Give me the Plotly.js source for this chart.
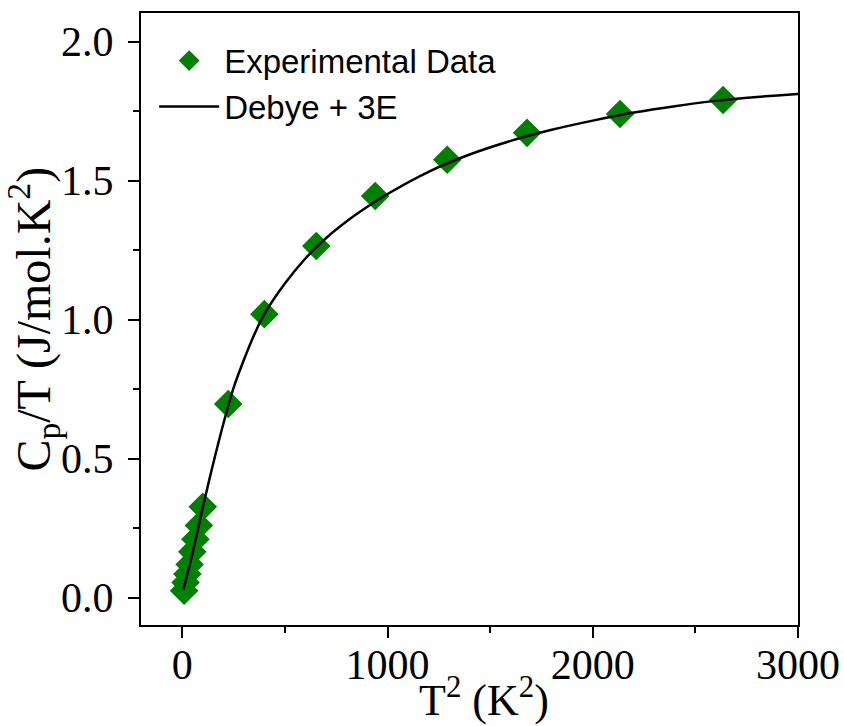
<!DOCTYPE html>
<html>
<head>
<meta charset="utf-8">
<script src="https://cdn.plot.ly/plotly-3.0.1.min.js"></script>
<style>html,body{margin:0;padding:0;background:#fff;}#chart{width:844px;height:726px;}</style>
</head>
<body>
<div id="chart"></div>
<script>
// Experimental data: T^2 (K^2) and Cp/T (J/mol.K^2)
const expT2 = [9, 16, 25, 36, 49, 64, 81, 100, 224, 400, 653, 940, 1291, 1680, 2133, 2635];
const expCpT = [0.025, 0.055, 0.085, 0.12, 0.165, 0.21, 0.26, 0.327, 0.697, 1.02, 1.265, 1.445, 1.575, 1.672, 1.74, 1.79];

// Debye + 3E fit curve
const fitT2 = [6, 25, 50, 75, 100, 150, 200, 250, 300, 350, 400, 500, 600, 700, 800, 900, 1000, 1200, 1400, 1600, 1800, 2000, 2200, 2400, 2600, 2800, 3000];
const fitCpT = [0.03, 0.085, 0.16, 0.24, 0.325, 0.48, 0.625, 0.755, 0.855, 0.945, 1.02, 1.13, 1.22, 1.293, 1.353, 1.405, 1.452, 1.532, 1.594, 1.643, 1.683, 1.716, 1.745, 1.768, 1.787, 1.801, 1.812];

const xTickVals = [0, 1000, 2000, 3000];
const yTickVals = [0.0, 0.5, 1.0, 1.5, 2.0];

const xTitle = 'T<sup>2</sup> (K<sup>2</sup>)';
const yTitle = 'C<sub>p</sub>/T (J/mol.K<sup>2</sup>)';

const serif = 'Liberation Serif, Times New Roman, serif';
const sans = 'Liberation Sans, Arial, sans-serif';

const traces = [
  {
    x: expT2, y: expCpT, mode: 'markers', type: 'scatter',
    name: 'Experimental Data',
    marker: {symbol: 'diamond', size: 22, color: '#008000', line: {width: 0}}
  },
  {
    x: fitT2, y: fitCpT, mode: 'lines', type: 'scatter',
    name: 'Debye + 3E',
    line: {color: '#000000', width: 2.5, shape: 'spline', smoothing: 1}
  }
];

const layout = {
  width: 844, height: 726,
  margin: {l: 141, r: 46, t: 13, b: 101, pad: 0},
  paper_bgcolor: '#ffffff', plot_bgcolor: '#ffffff',
  showlegend: true,
  legend: {
    x: 0.02, y: 0.968, xanchor: 'left', yanchor: 'top',
    bgcolor: 'rgba(0,0,0,0)', borderwidth: 0,
    font: {family: sans, size: 33, color: '#000'},
    itemwidth: 60, tracegroupgap: 0
  },
  xaxis: {
    range: [-201, 3000],
    tickmode: 'array', tickvals: xTickVals,
    ticks: 'outside', ticklen: 11, tickwidth: 2, tickcolor: '#000',
    minor: {ticks: 'outside', ticklen: 6, tickwidth: 2, tickcolor: '#000', dtick: 500, tick0: 0},
    showline: true, linewidth: 2, linecolor: '#000', mirror: true,
    showgrid: false, zeroline: false,
    tickfont: {family: serif, size: 42, color: '#000'},
    ticklabelstandoff: -9
  },
  yaxis: {
    range: [-0.098, 2.103],
    tickmode: 'array', tickvals: yTickVals, ticktext: yTickVals.map(v => v.toFixed(1)),
    ticks: 'outside', ticklen: 11, tickwidth: 2, tickcolor: '#000',
    minor: {ticks: 'outside', ticklen: 6, tickwidth: 2, tickcolor: '#000', dtick: 0.25, tick0: 0},
    showline: true, linewidth: 2, linecolor: '#000', mirror: true,
    showgrid: false, zeroline: false,
    tickfont: {family: serif, size: 42, color: '#000'},
    ticklabelstandoff: 6
  },
  annotations: [
    {
      text: yTitle,
      xref: 'paper', yref: 'paper', x: -0.165, y: 0.5,
      xanchor: 'center', yanchor: 'middle', textangle: -90, showarrow: false,
      font: {family: serif, size: 48, color: '#000'}
    },
    {
      text: xTitle,
      xref: 'paper', yref: 'paper', x: 0.522, y: -0.119,
      xanchor: 'center', yanchor: 'middle', showarrow: false,
      font: {family: serif, size: 44, color: '#000'}
    }
  ]
};

Plotly.newPlot('chart', traces, layout, {displayModeBar: false, staticPlot: true});
</script>
</body>
</html>
